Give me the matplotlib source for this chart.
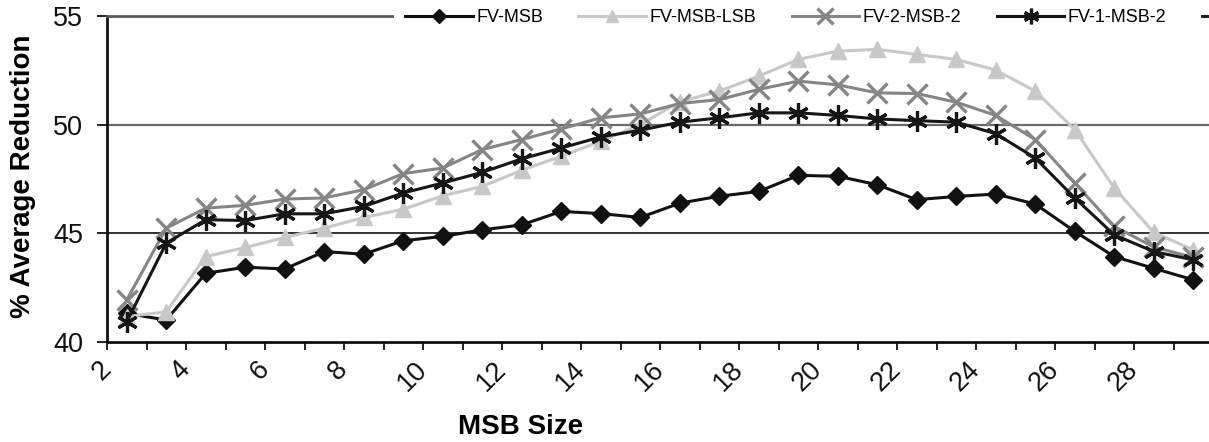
import matplotlib
matplotlib.use("Agg")
import matplotlib.pyplot as plt
from matplotlib.lines import Line2D
import numpy as np

plt.rcParams['font.family'] = ['Liberation Sans', 'DejaVu Sans']

# MSB size categories (points sit in the middle of each category slot)
msb_size = np.arange(2, 30) + 0.5
tick_labels = [str(v) for v in range(2, 30, 2)]

fv_msb = [41.3, 41.0, 43.15, 43.43, 43.35, 44.15, 44.03, 44.65, 44.85, 45.15,
          45.38, 46.0, 45.9, 45.72, 46.38, 46.7, 46.92, 47.66, 47.62, 47.23,
          46.54, 46.69, 46.8, 46.34, 45.08, 43.92, 43.38, 42.85]
fv_msb_lsb = [41.15, 41.38, 43.92, 44.34, 44.8, 45.23, 45.72, 46.1, 46.72, 47.15,
              47.9, 48.54, 49.23, 50.0, 51.05, 51.54, 52.23, 53.0, 53.38, 53.46,
              53.23, 53.0, 52.51, 51.54, 49.77, 47.08, 45.03, 44.23]
fv_2_msb_2 = [41.92, 45.23, 46.15, 46.28, 46.57, 46.62, 47.0, 47.74, 48.0, 48.85,
              49.31, 49.8, 50.31, 50.49, 50.97, 51.15, 51.62, 52.0, 51.83, 51.46,
              51.43, 51.03, 50.42, 49.31, 47.31, 45.31, 44.36, 43.88]
fv_1_msb_2 = [40.92, 44.54, 45.62, 45.58, 45.89, 45.89, 46.23, 46.85, 47.31, 47.8,
              48.42, 48.92, 49.43, 49.74, 50.11, 50.31, 50.54, 50.54, 50.42, 50.26,
              50.18, 50.11, 49.58, 48.46, 46.62, 44.92, 44.15, 43.77]

W, H = 1209, 442
fig = plt.figure(figsize=(W / 100, H / 100), dpi=100)
# plot area runs a little past the right edge of the picture (cropped chart)
ax = fig.add_axes([107 / W, (H - 341.7) / H, 1106 / W, 325.7 / H])

ax.axhline(50, color='#6a6a6a', lw=1.6, zorder=1)
ax.axhline(45, color='#111111', lw=1.2, zorder=1)

ax.plot(msb_size, fv_msb, color='#111111', lw=2.2, marker='D', ms=9.5,
        label='FV-MSB', zorder=3)
ax.plot(msb_size, fv_msb_lsb, color='#c8c8c8', lw=2.2, marker='^', ms=11,
        label='FV-MSB-LSB', zorder=4)
ax.plot(msb_size, fv_2_msb_2, color='#858585', lw=2.2, marker='x', ms=15, mew=2.4,
        label='FV-2-MSB-2', zorder=5)
ax.plot(msb_size, fv_1_msb_2, color='#161616', lw=2.2, marker=(6, 2, 0), ms=15, mew=2.3,
        label='FV-1-MSB-2', zorder=6)

ax.set_xlim(2, 30)
ax.set_ylim(40, 55)
ax.set_yticks([40, 45, 50, 55])
ax.set_xticks(np.arange(2, 31))
ax.set_xticklabels([str(v) if v % 2 == 0 and v < 30 else '' for v in range(2, 31)],
                   rotation=45, ha='right', va='center', rotation_mode='anchor')

ax.tick_params(axis='y', direction='out', length=7, width=1.3, labelsize=19.5, pad=10,
               colors='#111111')
ax.tick_params(axis='x', direction='out', length=6, width=1.3, labelsize=19.5, pad=11,
               colors='#111111')

for s in ['left', 'bottom']:
    ax.spines[s].set_linewidth(2)
    ax.spines[s].set_color('#111111')
ax.spines['top'].set_color('#5a5a5a')
ax.spines['top'].set_linewidth(2)
ax.spines['right'].set_visible(False)

ax.set_ylabel('% Average Reduction', fontsize=20, fontweight='bold')
ax.yaxis.set_label_coords((23 - 107) / 1106, (341.7 - 176) / 325.7)
ax.yaxis.label.set_va('center')
ax.set_xlabel('MSB Size', fontsize=20, fontweight='bold')
ax.xaxis.set_label_coords((521 - 107) / 1106, (341.7 - 427.5) / 325.7)
ax.xaxis.label.set_va('center')

# legend sits over the top border; a fifth entry is cut off by the right edge
handles, labels = ax.get_legend_handles_labels()
handles.append(Line2D([], [], color='#222222', lw=2.2))
labels.append(' ')
leg = fig.legend(handles, labels, loc='center left', ncol=5,
                 bbox_to_anchor=(394 / W, 1 - 18 / H), bbox_transform=fig.transFigure,
                 fontsize=13.0, frameon=True, facecolor='white', edgecolor='none',
                 framealpha=1, handlelength=3.75, handletextpad=0.2, columnspacing=1.95,
                 borderpad=0.6, borderaxespad=0)
leg.get_frame().set_boxstyle('square', pad=0)
for h in leg.legend_handles:
    h.set_markersize(h.get_markersize() * 0.75)

fig.savefig('out.png', dpi=100)
